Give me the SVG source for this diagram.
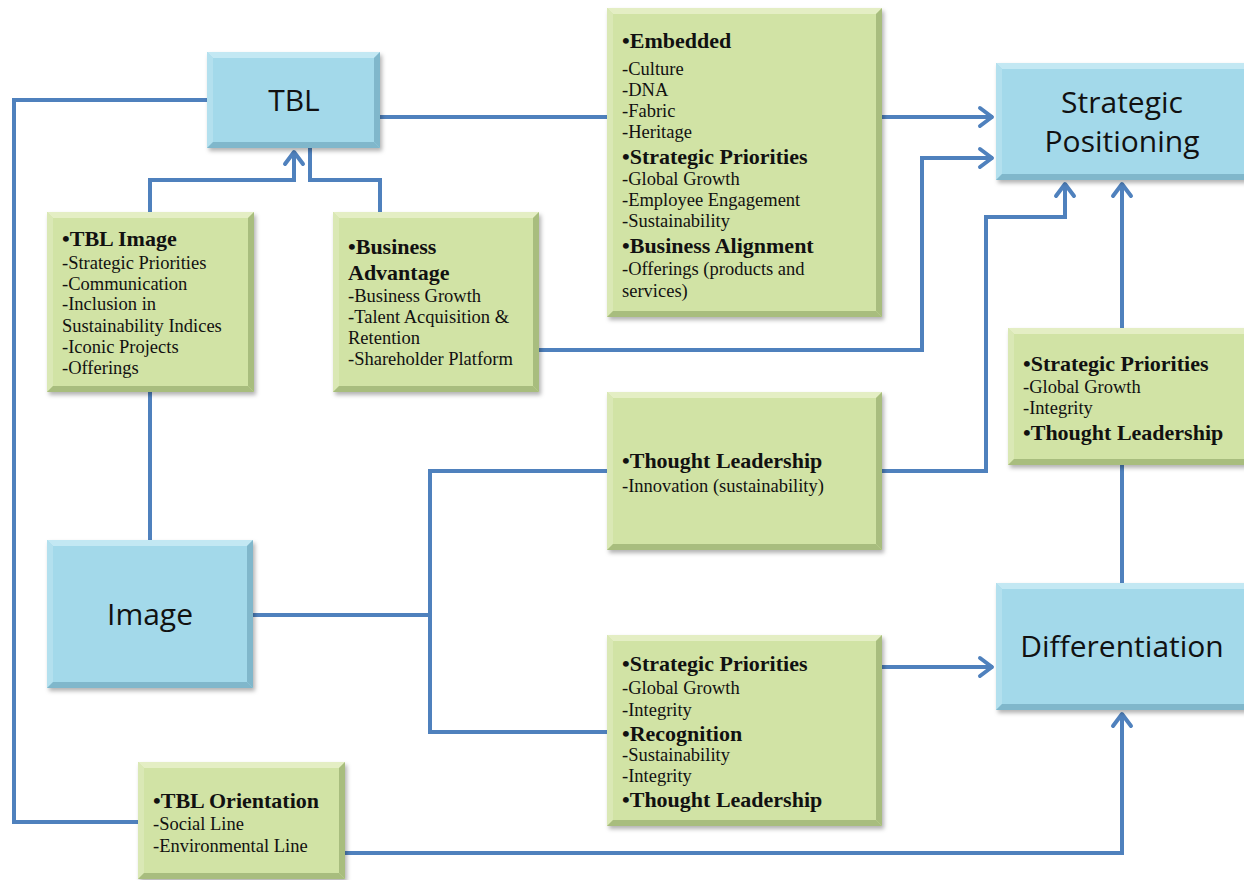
<svg xmlns="http://www.w3.org/2000/svg" width="1244" height="880" viewBox="0 0 1244 880">
<defs>
<style>
.conn{fill:none;stroke:#4F81BD;stroke-width:4;stroke-linejoin:miter}
.bf{fill:#A3D9EA}.bt{fill:#C3E8F3}.bl{fill:#B3E0EE}.bd{fill:#80B7CB}
.gf{fill:#D1E3A5}.gt{fill:#E4EEC4}.gl{fill:#DAE8B5}.gd{fill:#A8BD7E}
.bt1{font-family:"Open Sans","Noto Sans","Liberation Sans",sans-serif;font-size:30px;fill:#111;text-anchor:middle}
.h{font-family:"Liberation Serif","Times New Roman",serif;font-size:22px;font-weight:bold;fill:#111}
.r{font-family:"Liberation Serif","Times New Roman",serif;font-size:18.5px;fill:#111}
</style>
<filter id="sh" x="-10%" y="-10%" width="120%" height="130%">
<feDropShadow dx="2" dy="3" stdDeviation="2" flood-color="#000" flood-opacity="0.3"/>
</filter>
<marker id="arr" markerUnits="userSpaceOnUse" markerWidth="26" markerHeight="26" refX="18" refY="12" orient="auto">
<path d="M5,3 L17,12 L5,21" fill="none" stroke="#4F81BD" stroke-width="4" stroke-linecap="round" stroke-linejoin="round"/>
</marker>
</defs>
<rect width="1244" height="880" fill="#fff"/>

<g id="connectors">
<path class="conn" d="M207,100 H14 V822 H138"/>
<path class="conn" d="M380,117 H993" marker-end="url(#arr)"/>
<path class="conn" d="M150,212 V180 H294 V151" marker-end="url(#arr)"/>
<path class="conn" d="M380,212 V180 H310 V148"/>
<path class="conn" d="M539,350 H922 V158 H993" marker-end="url(#arr)"/>
<path class="conn" d="M882,471 H986 V217 H1065 V183" marker-end="url(#arr)"/>
<path class="conn" d="M1122,328 V183" marker-end="url(#arr)"/>
<path class="conn" d="M1122,583 V465"/>
<path class="conn" d="M150,392 V540"/>
<path class="conn" d="M253,615 H430"/>
<path class="conn" d="M607,471 H430 V732 H607"/>
<path class="conn" d="M882,667 H993" marker-end="url(#arr)"/>
<path class="conn" d="M345,853 H1122 V713" marker-end="url(#arr)"/>
</g>

<g id="tbl">
<g filter="url(#sh)"><rect class="bf" x="207" y="52" width="173" height="96"/></g>
<polygon class="bt" points="207,52 380,52 374,58 213,58"/>
<polygon class="bl" points="207,52 213,58 213,142 207,148"/>
<polygon class="bd" points="380,52 380,148 374,142 374,58"/>
<polygon class="bd" points="207,148 380,148 374,142 213,142"/>
<text class="bt1" x="294" y="111">TBL</text>
</g>

<g id="strategic-positioning">
<g filter="url(#sh)"><rect class="bf" x="996" y="63" width="254" height="117"/></g>
<polygon class="bt" points="996,63 1250,63 1250,69 1002,69"/>
<polygon class="bl" points="996,63 1002,69 1002,174 996,180"/>
<polygon class="bd" points="996,180 1250,180 1250,174 1002,174"/>
<text class="bt1" x="1122" y="113">Strategic</text>
<text class="bt1" x="1122" y="152">Positioning</text>
</g>

<g id="image">
<g filter="url(#sh)"><rect class="bf" x="47" y="540" width="206" height="148"/></g>
<polygon class="bt" points="47,540 253,540 247,546 53,546"/>
<polygon class="bl" points="47,540 53,546 53,682 47,688"/>
<polygon class="bd" points="253,540 253,688 247,682 247,546"/>
<polygon class="bd" points="47,688 253,688 247,682 53,682"/>
<text class="bt1" x="150" y="625">Image</text>
</g>

<g id="differentiation">
<g filter="url(#sh)"><rect class="bf" x="996" y="583" width="254" height="127"/></g>
<polygon class="bt" points="996,583 1250,583 1250,589 1002,589"/>
<polygon class="bl" points="996,583 1002,589 1002,704 996,710"/>
<polygon class="bd" points="996,710 1250,710 1250,704 1002,704"/>
<text class="bt1" x="1122" y="657">Differentiation</text>
</g>

<g id="tbl-image">
<g filter="url(#sh)"><rect class="gf" x="47" y="212" width="207" height="180"/></g>
<polygon class="gt" points="47,212 254,212 248,218 53,218"/>
<polygon class="gl" points="47,212 53,218 53,386 47,392"/>
<polygon class="gd" points="254,212 254,392 248,386 248,218"/>
<polygon class="gd" points="47,392 254,392 248,386 53,386"/>
<text class="h" x="62" y="246">•TBL Image</text>
<text class="r" x="62" y="269">-Strategic Priorities</text>
<text class="r" x="62" y="290">-Communication</text>
<text class="r" x="62" y="310">-Inclusion in</text>
<text class="r" x="62" y="332">Sustainability Indices</text>
<text class="r" x="62" y="353">-Iconic Projects</text>
<text class="r" x="62" y="374">-Offerings</text>
</g>

<g id="business-advantage">
<g filter="url(#sh)"><rect class="gf" x="333" y="212" width="206" height="180"/></g>
<polygon class="gt" points="333,212 539,212 533,218 339,218"/>
<polygon class="gl" points="333,212 339,218 339,386 333,392"/>
<polygon class="gd" points="539,212 539,392 533,386 533,218"/>
<polygon class="gd" points="333,392 539,392 533,386 339,386"/>
<text class="h" x="348" y="254">•Business</text>
<text class="h" x="348" y="280">Advantage</text>
<text class="r" x="348" y="302">-Business Growth</text>
<text class="r" x="348" y="323">-Talent Acquisition &amp;</text>
<text class="r" x="348" y="344">Retention</text>
<text class="r" x="348" y="365">-Shareholder Platform</text>
</g>

<g id="embedded">
<g filter="url(#sh)"><rect class="gf" x="607" y="8" width="275" height="309"/></g>
<polygon class="gt" points="607,8 882,8 876,14 613,14"/>
<polygon class="gl" points="607,8 613,14 613,311 607,317"/>
<polygon class="gd" points="882,8 882,317 876,311 876,14"/>
<polygon class="gd" points="607,317 882,317 876,311 613,311"/>
<text class="h" x="622" y="48">•Embedded</text>
<text class="r" x="622" y="75">-Culture</text>
<text class="r" x="622" y="96">-DNA</text>
<text class="r" x="622" y="117">-Fabric</text>
<text class="r" x="622" y="138">-Heritage</text>
<text class="h" x="622" y="164">•Strategic Priorities</text>
<text class="r" x="622" y="185">-Global Growth</text>
<text class="r" x="622" y="206">-Employee Engagement</text>
<text class="r" x="622" y="227">-Sustainability</text>
<text class="h" x="622" y="253">•Business Alignment</text>
<text class="r" x="622" y="275">-Offerings (products and</text>
<text class="r" x="622" y="297">services)</text>
</g>

<g id="thought-leadership">
<g filter="url(#sh)"><rect class="gf" x="607" y="392" width="275" height="158"/></g>
<polygon class="gt" points="607,392 882,392 876,398 613,398"/>
<polygon class="gl" points="607,392 613,398 613,544 607,550"/>
<polygon class="gd" points="882,392 882,550 876,544 876,398"/>
<polygon class="gd" points="607,550 882,550 876,544 613,544"/>
<text class="h" x="622" y="468">•Thought Leadership</text>
<text class="r" x="622" y="492">-Innovation (sustainability)</text>
</g>

<g id="strategic-priorities-right">
<g filter="url(#sh)"><rect class="gf" x="1008" y="328" width="242" height="137"/></g>
<polygon class="gt" points="1008,328 1250,328 1250,334 1014,334"/>
<polygon class="gl" points="1008,328 1014,334 1014,459 1008,465"/>
<polygon class="gd" points="1008,465 1250,465 1250,459 1014,459"/>
<text class="h" x="1023" y="371">•Strategic Priorities</text>
<text class="r" x="1023" y="393">-Global Growth</text>
<text class="r" x="1023" y="414">-Integrity</text>
<text class="h" x="1023" y="440">•Thought Leadership</text>
</g>

<g id="strategic-priorities-bottom">
<g filter="url(#sh)"><rect class="gf" x="607" y="635" width="275" height="191"/></g>
<polygon class="gt" points="607,635 882,635 876,641 613,641"/>
<polygon class="gl" points="607,635 613,641 613,820 607,826"/>
<polygon class="gd" points="882,635 882,826 876,820 876,641"/>
<polygon class="gd" points="607,826 882,826 876,820 613,820"/>
<text class="h" x="622" y="671">•Strategic Priorities</text>
<text class="r" x="622" y="694">-Global Growth</text>
<text class="r" x="622" y="716">-Integrity</text>
<text class="h" x="622" y="741">•Recognition</text>
<text class="r" x="622" y="761">-Sustainability</text>
<text class="r" x="622" y="782">-Integrity</text>
<text class="h" x="622" y="807">•Thought Leadership</text>
</g>

<g id="tbl-orientation">
<g filter="url(#sh)"><rect class="gf" x="138" y="762" width="207" height="117"/></g>
<polygon class="gt" points="138,762 345,762 339,768 144,768"/>
<polygon class="gl" points="138,762 144,768 144,873 138,879"/>
<polygon class="gd" points="345,762 345,879 339,873 339,768"/>
<polygon class="gd" points="138,879 345,879 339,873 144,873"/>
<text class="h" x="153" y="808">•TBL Orientation</text>
<text class="r" x="153" y="830">-Social Line</text>
<text class="r" x="153" y="852">-Environmental Line</text>
</g>
</svg>
